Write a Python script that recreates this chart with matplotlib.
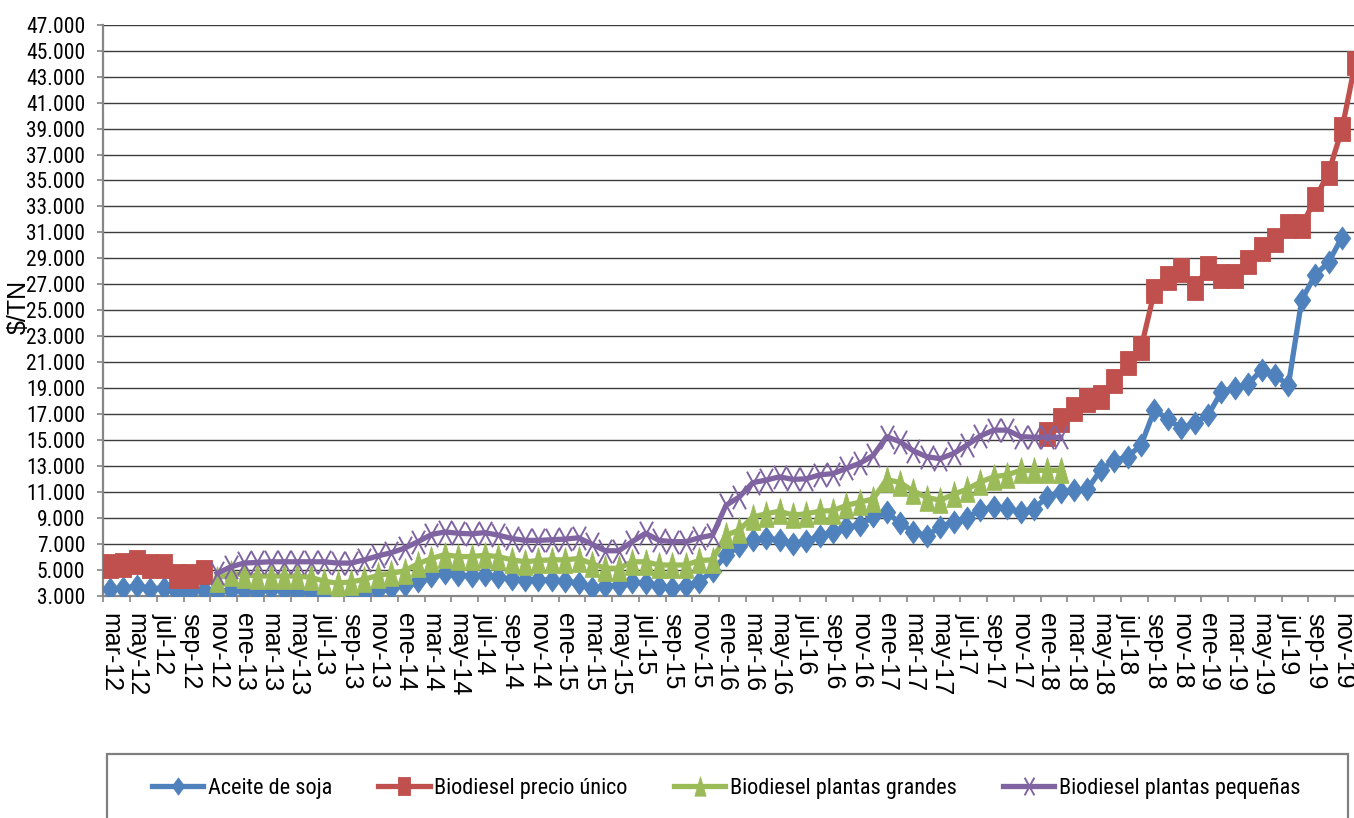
import numpy as np
import matplotlib
matplotlib.use('Agg')
import matplotlib.pyplot as plt
from matplotlib.path import Path
from matplotlib.patches import Rectangle
from matplotlib import font_manager as fm
from matplotlib.ticker import FuncFormatter

# ---------------- data ----------------
n_months = 94  # mar-12 .. dic-19
tick_labels = ['mar-12', 'may-12', 'jul-12', 'sep-12', 'nov-12',
               'ene-13', 'mar-13', 'may-13', 'jul-13', 'sep-13', 'nov-13',
               'ene-14', 'mar-14', 'may-14', 'jul-14', 'sep-14', 'nov-14',
               'ene-15', 'mar-15', 'may-15', 'jul-15', 'sep-15', 'nov-15',
               'ene-16', 'mar-16', 'may-16', 'jul-16', 'sep-16', 'nov-16',
               'ene-17', 'mar-17', 'may-17', 'jul-17', 'sep-17', 'nov-17',
               'ene-18', 'mar-18', 'may-18', 'jul-18', 'sep-18', 'nov-18',
               'ene-19', 'mar-19', 'may-19', 'jul-19', 'sep-19', 'nov-19']

# Aceite de soja: mar-12 .. nov-19
aceite_start = 0
aceite = [3500, 3600, 3700, 3500, 3600, 3300, 3300, 3400, 3300, 3400,
          3400, 3300, 3500, 3400, 3300, 3300, 3000, 2900, 3100, 3200, 3400, 3600,
          3800, 4100, 4500, 4700, 4600, 4500, 4600, 4400, 4250, 4200, 4200, 4200,
          4100, 3950, 3550, 3700, 3800, 4050, 3950, 3700, 3550, 3700, 4050, 4900,
          6100, 6800, 7300, 7400, 7300, 7000, 7200, 7600, 7900, 8300, 8400, 9100,
          9400, 8600, 7900, 7600, 8300, 8700, 9000, 9600, 9800, 9750, 9400, 9700,
          10600, 11000, 11100, 11200, 12700, 13400, 13700, 14600, 17300, 16600, 15900, 16300,
          16900, 18700, 19000, 19300, 20400, 20000, 19200, 25800, 27700, 28700, 30600]

# Biodiesel precio único: mar-12 .. oct-12 and ene-18 .. dic-19
unico_a_start = 0
unico_a = [5250, 5370, 5560, 5300, 5250, 4480, 4480, 4790]
unico_b_start = 70
unico_b = [15450, 16550, 17400, 18050, 18300, 19510, 20940, 22080, 26470, 27480, 28080, 26740,
           28250, 27640, 27640, 28700, 29720, 30420, 31490, 31490, 33570, 35600, 38930, 44080]

# Biodiesel plantas grandes: nov-12 .. feb-18
grandes_start = 8
grandes = [4300, 4700,
           4600, 4500, 4500, 4500, 4500, 4400, 4100, 3950, 4050, 4250, 4550, 4700,
           4900, 5450, 5850, 6150, 6000, 6000, 6100, 6000, 5750, 5600, 5700, 5750,
           5750, 5850, 5450, 5100, 5100, 5600, 5600, 5350, 5350, 5350, 5700, 5750,
           7650, 8050, 9050, 9300, 9500, 9200, 9300, 9500, 9550, 9950, 10200, 10450,
           11950, 11700, 11050, 10550, 10350, 10800, 11200, 11750, 12150, 12300, 12650, 12650,
           12650, 12650]

# Biodiesel plantas pequeñas: nov-12 .. feb-18
pequenas_start = 8
pequenas = [4700, 5200,
            5500, 5550, 5600, 5600, 5600, 5600, 5600, 5500, 5500, 5750, 6050, 6300,
            6650, 7150, 7700, 7900, 7800, 7750, 7850, 7650, 7400, 7250, 7250, 7300,
            7350, 7450, 6950, 6450, 6450, 7150, 7800, 7250, 7150, 7150, 7450, 7650,
            9950, 10600, 11700, 11900, 12150, 11950, 12000, 12300, 12400, 12800, 13200, 13800,
            15250, 14850, 14150, 13700, 13550, 13950, 14600, 15300, 15750, 15750, 15250, 15200,
            15200, 15200]

series_names = ['Aceite de soja', 'Biodiesel precio único',
                'Biodiesel plantas grandes', 'Biodiesel plantas pequeñas']
colors = ['#4F81BD', '#C0504D', '#9BBB59', '#8064A2']


def full(segments):
    arr = np.full(n_months, np.nan)
    for start, vals in segments:
        arr[start:start + len(vals)] = vals
    return arr


y_aceite = full([(aceite_start, aceite)])
y_unico = full([(unico_a_start, unico_a), (unico_b_start, unico_b)])
y_grandes = full([(grandes_start, grandes)])
y_pequenas = full([(pequenas_start, pequenas)])
x = np.arange(n_months)

# ---------------- fonts ----------------
names = {f.name for f in fm.fontManager.ttflist}
if 'Roboto Condensed' in names:
    narrow = ['Roboto Condensed', 'Liberation Sans', 'DejaVu Sans']
    ytick_size, legend_size = 15.5, 16
else:
    narrow = ['Liberation Sans', 'DejaVu Sans']
    ytick_size, legend_size = 14, 14
regular = ['Liberation Sans', 'DejaVu Sans']

# ---------------- markers (tall, narrow shapes) ----------------
diamond = Path([(0, 1), (0.72, 0), (0, -1), (-0.72, 0), (0, 1)], closed=True)
square = Path([(-0.66, -1), (0.66, -1), (0.66, 1), (-0.66, 1), (-0.66, -1)], closed=True)
triangle = Path([(0, 1), (0.58, -1), (-0.58, -1), (0, 1)], closed=True)
xmark = Path([(-0.55, -1), (0.55, 1), (-0.55, 1), (0.55, -1)],
             [Path.MOVETO, Path.LINETO, Path.MOVETO, Path.LINETO])

styles = [
    dict(marker=diamond, markersize=16.5, mfc=colors[0], mec=colors[0], mew=0.6),
    dict(marker=square, markersize=17.5, mfc=colors[1], mec=colors[1], mew=0.6),
    dict(marker=triangle, markersize=18.5, mfc=colors[2], mec=colors[2], mew=0.6),
    dict(marker=xmark, markersize=17, mfc='none', mec=colors[3], mew=1.4),
]

# ---------------- figure ----------------
W, H = 1354, 818
fig = plt.figure(figsize=(W / 100, H / 100), dpi=100)
ax_left, ax_right = 103.3, 1362.0
ax_top, ax_bottom = 24.8, 595.5
ax = fig.add_axes([ax_left / W, 1 - ax_bottom / H,
                   (ax_right - ax_left) / W, (ax_bottom - ax_top) / H])

ys = [y_aceite, y_unico, y_grandes, y_pequenas]
handles = []
for i, (y, st) in enumerate(zip(ys, styles)):
    ln, = ax.plot(x, y, color=colors[i], lw=3.8, solid_joinstyle='round',
                  zorder=3 + i, label=series_names[i], **st)
    handles.append(ln)

ax.set_xlim(-0.5, n_months - 0.5)
ax.set_ylim(3000, 47000)
ax.set_yticks(np.arange(3000, 47001, 2000))
ax.yaxis.set_major_formatter(FuncFormatter(lambda v, _: f'{int(v):,}'.replace(',', '.')))
ax.yaxis.grid(True, color='#3c3c3c', lw=1.0)
ax.set_axisbelow(True)

ax.set_xticks(np.arange(0, 93, 2))
ax.set_xticklabels(tick_labels, rotation=-90, family=regular, fontsize=18)
ax.set_xticks(np.arange(-0.5, n_months, 2), minor=True)
ax.tick_params(axis='x', which='major', length=0, pad=12.5)
ax.tick_params(axis='x', which='minor', length=4.5, width=1.2, color='#868686', direction='out')
ax.tick_params(axis='y', length=4.5, width=1.2, color='#868686', pad=8.5)
for lab in ax.get_yticklabels():
    lab.set_family(narrow)
    lab.set_fontsize(ytick_size)

for s in ['top', 'right']:
    ax.spines[s].set_visible(False)
for s in ['left', 'bottom']:
    ax.spines[s].set_color('#868686')
    ax.spines[s].set_linewidth(1.6)
    ax.spines[s].set_zorder(2.5)

ax.set_ylabel('$/TN', family=regular, fontsize=18)
ax.yaxis.label.set_va('center')
ax.yaxis.set_label_coords((19 - ax_left) / (ax_right - ax_left), 0.505)

# ---------------- legend ----------------
box = Rectangle((106.5 / W, 1 - 830 / H), (1348 - 106.5) / W, (830 - 754) / H,
                transform=fig.transFigure, fill=False, edgecolor='#7f7f7f', lw=1.6)
fig.add_artist(box)
leg = fig.legend(handles=handles, labels=series_names, loc='center left',
                 bbox_to_anchor=(152 / W, 1 - 788 / H), ncol=4, frameon=False,
                 borderpad=0, borderaxespad=0, handlelength=2.3, handletextpad=0.2,
                 columnspacing=2.1, markerscale=0.75, numpoints=1,
                 prop={'family': narrow, 'size': legend_size})

fig.savefig('out.png', dpi=100)
